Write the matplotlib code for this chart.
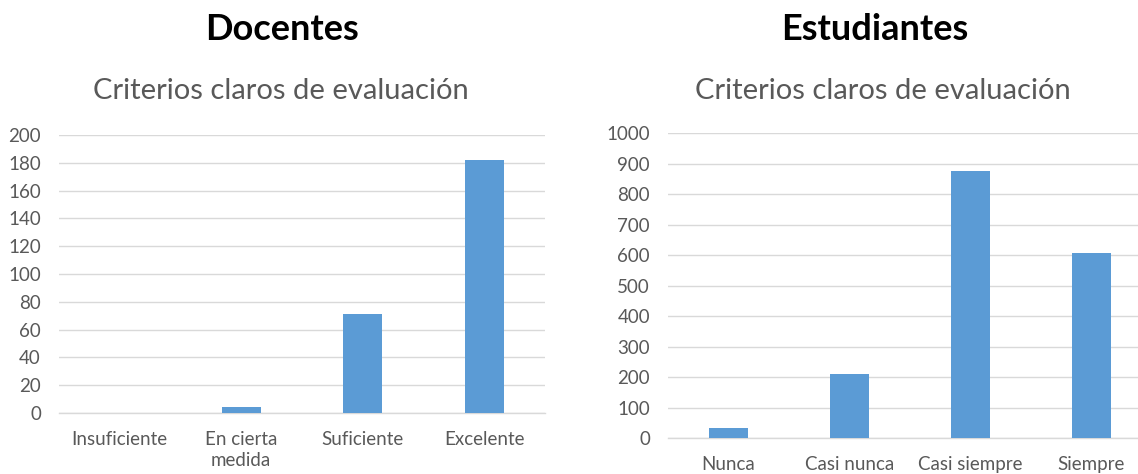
"""Criterios claros de evaluación: docentes vs estudiantes
"""
import matplotlib.pyplot as plt

plt.rcParams["font.family"] = ["Lato", "DejaVu Sans"]

doc_labels = ["Insuficiente", "En cierta\nmedida", "Suficiente", "Excelente"]
doc_values = [0, 4, 71, 182]
doc_ticks = list(range(0, 201, 20))

est_labels = ["Nunca", "Casi nunca", "Casi siempre", "Siempre"]
est_values = [32, 211, 874, 605]
est_ticks = list(range(0, 1001, 100))

BAR = "#5B9BD5"
GRID = "#D9D9D9"
TXT = "#595959"


def _panel(ax, labels, values, ticks):
    x = list(range(len(labels)))
    ax.bar(x, values, width=0.32, color=BAR, zorder=3)
    ax.set_xlim(-0.5, len(labels) - 0.5)
    ax.set_ylim(ticks[0], ticks[-1])
    ax.set_yticks(ticks)
    ax.set_xticks(x)
    ax.set_xticklabels(labels, linespacing=1.3)
    ax.grid(axis="y", color=GRID, linewidth=1.0, zorder=0)
    for side in ["top", "right", "left"]:
        ax.spines[side].set_visible(False)
    ax.spines["bottom"].set_color(GRID)
    ax.spines["bottom"].set_linewidth(1.0)
    ax.tick_params(axis="both", length=0, colors=TXT, labelsize=13.5)
    ax.tick_params(axis="x", pad=13)
    ax.tick_params(axis="y", pad=13)
    ax.set_facecolor("none")


fig = plt.figure(figsize=(11.38, 4.74), dpi=100)
ax1 = fig.add_axes([0.0518, 0.1287, 0.427, 0.5865])
ax2 = fig.add_axes([0.587, 0.0759, 0.4253, 0.6435])
_panel(ax1, doc_labels, doc_values, doc_ticks)
_panel(ax2, est_labels, est_values, est_ticks)

fig.text(282 / 1138, 1 - 29 / 474, "Docentes", ha="center", va="center",
         fontsize=26, fontweight="bold", color="black")
fig.text(875 / 1138, 1 - 29 / 474, "Estudiantes", ha="center", va="center",
         fontsize=26, fontweight="bold", color="black")
fig.text(281 / 1138, 1 - 91 / 474, "Criterios claros de evaluación",
         ha="center", va="center", fontsize=21, color=TXT)
fig.text(883 / 1138, 1 - 91 / 474, "Criterios claros de evaluación",
         ha="center", va="center", fontsize=21, color=TXT)

fig.savefig("out.png", dpi=100)
